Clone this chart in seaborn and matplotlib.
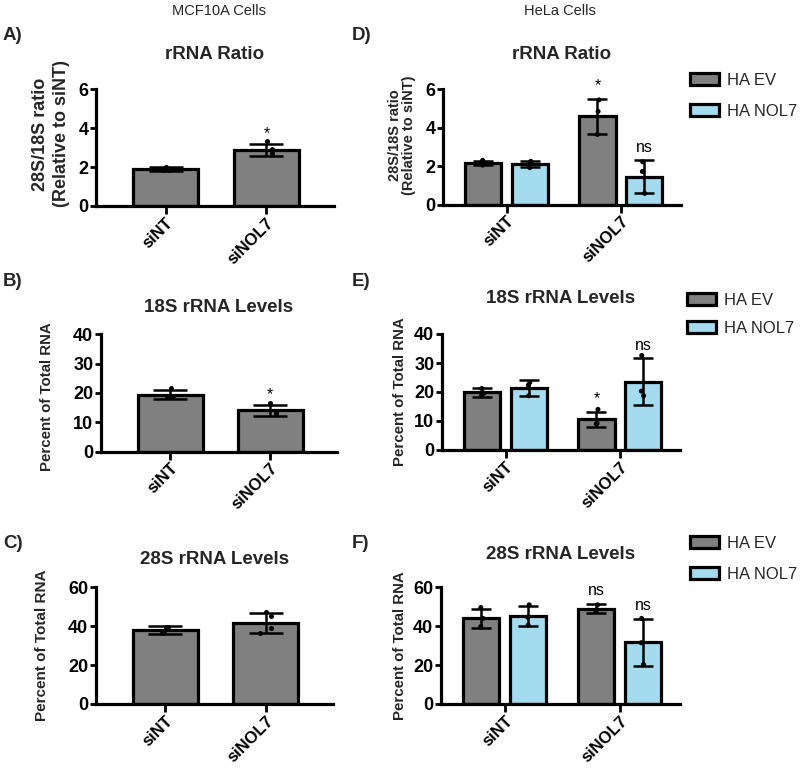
import numpy as np
import pandas as pd
import matplotlib
matplotlib.use("Agg")
import matplotlib.pyplot as plt
import seaborn as sns
from matplotlib.patches import Patch

sns.set_theme(style="ticks")
plt.rcParams['font.family'] = ['Liberation Sans', 'DejaVu Sans']

# ---------------- data ----------------
categories = ["siNT", "siNOL7"]
groups = ["HA EV", "HA NOL7"]

# MCF10A cells (single group)
A_means = [1.90, 2.88]
A_sds = [0.10, 0.30]
A_points = [[2.00, 1.86, 1.85], [3.32, 2.95, 2.72]]
A_marks = ["", "*"]

B_means = [19.4, 14.0]
B_sds = [1.6, 1.8]
B_points = [[21.6, 19.0, 18.5], [16.5, 13.4, 12.8]]
B_marks = ["", "*"]

C_means = [38.1, 41.6]
C_sds = [2.1, 5.2]
C_points = [[39.5, 39.5, 36.4], [47.5, 45.5, 39.3, 36.4]]
C_marks = ["", ""]

# HeLa cells (HA EV / HA NOL7) -- order: siNT, siNOL7
D_ev_means = [2.16, 4.60]
D_ev_sds = [0.12, 0.92]
D_ev_points = [[2.30, 2.15, 2.05], [5.45, 4.85, 3.65]]
D_nol_means = [2.09, 1.45]
D_nol_sds = [0.15, 0.85]
D_nol_points = [[2.25, 2.12, 1.92], [2.22, 1.72, 0.58]]
D_ev_marks = ["", "*"]
D_nol_marks = ["", "ns"]

E_ev_means = [19.9, 10.6]
E_ev_sds = [1.6, 2.6]
E_ev_points = [[21.2, 19.6, 19.0], [14.0, 9.2, 9.0]]
E_nol_means = [21.3, 23.5]
E_nol_sds = [2.7, 8.1]
E_nol_points = [[23.3, 22.4, 18.7], [32.6, 20.3, 18.7]]
E_ev_marks = ["", "*"]
E_nol_marks = ["", "ns"]

F_ev_means = [44.1, 49.1]
F_ev_sds = [5.0, 2.3]
F_ev_points = [[49.6, 44.0, 39.8], [51.0, 48.5, 47.8]]
F_nol_means = [45.3, 31.7]
F_nol_sds = [5.3, 12.0]
F_nol_points = [[51.0, 44.6, 40.5], [44.0, 31.5, 20.3]]
F_ev_marks = ["", "ns"]
F_nol_marks = ["", "ns"]

GRAY = "#808080"
BLUE = "#A5DBEE"
W, H = 800, 779

fig = plt.figure(figsize=(W / 100, H / 100), dpi=100)


def px_axes(left, right, top, bottom):
    return fig.add_axes([left / W, 1 - bottom / H, (right - left) / W, (bottom - top) / H])


def style_axes(ax, ylim, yticks, xlim):
    ax.set_ylim(*ylim)
    ax.set_yticks(yticks)
    ax.set_xlim(*xlim)
    sns.despine(ax=ax)
    for s in ("left", "bottom"):
        ax.spines[s].set_linewidth(2.3)
        ax.spines[s].set_color("black")
    ax.tick_params(axis="y", length=4, width=2, pad=1.5, labelsize=13, colors="black")
    ax.tick_params(axis="x", length=5.5, width=2, pad=1, labelsize=12, colors="black")
    for lab in ax.get_yticklabels():
        lab.set_fontweight("bold")
    for lab in ax.get_xticklabels():
        lab.set_fontweight("bold")
        lab.set_rotation(45)
        lab.set_ha("right")
        lab.set_va("top")
        lab.set_rotation_mode("anchor")
    ax.set_xlabel("")
    ax.set_facecolor("white")


def annotate(ax, x, top, mark, off):
    if mark:
        ax.annotate(mark, (x, top), xytext=(0, off), textcoords="offset points",
                    ha="center", va="bottom", fontsize=11.5, color="black")


def single_panel(rect, means, sds, points, marks, ylim, yticks, title, tpad, ylabel, ylsize, ylpos, lsp=1.2):
    ax = px_axes(*rect)
    df = pd.DataFrame({"cond": categories, "value": means})
    sns.barplot(data=df, x="cond", y="value", color=GRAY, saturation=1, width=0.65,
                edgecolor="black", linewidth=2.3, errorbar=None, ax=ax, zorder=2)
    bars = sorted(ax.patches, key=lambda p: p.get_x())
    centers = [p.get_x() + p.get_width() / 2 for p in bars]
    ax.errorbar(centers, means, yerr=sds, fmt="none", ecolor="black", elinewidth=1.8,
                capsize=12, capthick=1.8, zorder=3)
    pts = pd.DataFrame({"cond": [c for c, v in zip(categories, points) for _ in v],
                        "value": [x for v in points for x in v]})
    np.random.seed(3)
    sns.stripplot(data=pts, x="cond", y="value", color="black", size=3.6, jitter=0.07,
                  ax=ax, zorder=4)
    for c, m, s, mk in zip(centers, means, sds, marks):
        annotate(ax, c, m + s, mk, 2)
    style_axes(ax, ylim, yticks, (-0.69, 1.67))
    ax.set_title(title, fontsize=13.5, fontweight="bold", pad=tpad)
    ax.set_ylabel(ylabel, fontsize=ylsize, fontweight="bold", va="center", linespacing=lsp)
    ax.yaxis.set_label_coords(*ylpos)
    return ax


def hue_panel(rect, ev_means, ev_sds, ev_points, nol_means, nol_sds, nol_points,
              ev_marks, nol_marks, ylim, yticks, title, tpad, ylabel, ylsize, ylpos, lsp=1.2):
    ax = px_axes(*rect)
    rows = []
    for g, ms in zip(groups, [ev_means, nol_means]):
        for c, m in zip(categories, ms):
            rows.append((c, g, m))
    df = pd.DataFrame(rows, columns=["cond", "group", "value"])
    sns.barplot(data=df, x="cond", y="value", hue="group", hue_order=groups,
                palette=[GRAY, BLUE], saturation=1, width=0.82, gap=0.23,
                edgecolor="black", linewidth=2.3, errorbar=None, legend=False, ax=ax, zorder=2)
    bars = sorted([p for p in ax.patches if p.get_width() > 0], key=lambda p: p.get_x())
    centers = [p.get_x() + p.get_width() / 2 for p in bars]
    # x order: siNT-EV, siNT-NOL7, siNOL7-EV, siNOL7-NOL7
    means = [ev_means[0], nol_means[0], ev_means[1], nol_means[1]]
    sds = [ev_sds[0], nol_sds[0], ev_sds[1], nol_sds[1]]
    marks = [ev_marks[0], nol_marks[0], ev_marks[1], nol_marks[1]]
    ax.errorbar(centers, means, yerr=sds, fmt="none", ecolor="black", elinewidth=1.8,
                capsize=7.5, capthick=1.8, zorder=3)
    prow = []
    for g, pl in zip(groups, [ev_points, nol_points]):
        for c, v in zip(categories, pl):
            for x in v:
                prow.append((c, g, x))
    pts = pd.DataFrame(prow, columns=["cond", "group", "value"])
    np.random.seed(5)
    sns.stripplot(data=pts, x="cond", y="value", hue="group", hue_order=groups,
                  palette=["black", "black"], dodge=True, size=3.6, jitter=0.03,
                  legend=False, ax=ax, zorder=4)
    for c, m, s, mk in zip(centers, means, sds, marks):
        annotate(ax, c, m + s, mk, 4)
    style_axes(ax, ylim, yticks, (-0.555, 1.525))
    ax.set_title(title, fontsize=13.5, fontweight="bold", pad=tpad)
    ax.set_ylabel(ylabel, fontsize=ylsize, fontweight="bold", va="center", linespacing=lsp)
    ax.yaxis.set_label_coords(*ylpos)
    return ax


def add_legend(left_px, top_px, lsp):
    handles = [Patch(facecolor=GRAY, edgecolor="black", linewidth=2.3),
               Patch(facecolor=BLUE, edgecolor="black", linewidth=2.3)]
    fig.legend(handles, groups, loc="upper left", bbox_to_anchor=(left_px / W, 1 - top_px / H),
               frameon=False, fontsize=12, handlelength=1.75, handleheight=0.7,
               handletextpad=0.45, labelspacing=lsp, borderaxespad=0, borderpad=0)


ratio_label = "28S/18S ratio\n(Relative to siNT)"
pct_label = "Percent of Total RNA"

# left column: MCF10A
single_panel((96, 334, 89.3, 206), A_means, A_sds, A_points, A_marks, (0, 6), [0, 2, 4, 6],
             "rRNA Ratio", 22, ratio_label, 13, (-0.19, 0.617), 1.3)
single_panel((101, 337, 334.3, 451.5), B_means, B_sds, B_points, B_marks, (0, 40), [0, 10, 20, 30, 40],
             "18S rRNA Levels", 16.4, pct_label, 10.8, (-0.229, 0.466))
single_panel((96, 333, 587.3, 704), C_means, C_sds, C_points, C_marks, (0, 60), [0, 20, 40, 60],
             "28S rRNA Levels", 17, pct_label, 11, (-0.228, 0.5))

# right column: HeLa
hue_panel((443, 681, 89.3, 204.5), D_ev_means, D_ev_sds, D_ev_points, D_nol_means, D_nol_sds,
          D_nol_points, D_ev_marks, D_nol_marks, (0, 6), [0, 2, 4, 6], "rRNA Ratio", 22,
          ratio_label, 10.5, (-0.172, 0.60), 1.0)
hue_panel((442, 680, 334, 450), E_ev_means, E_ev_sds, E_ev_points, E_nol_means, E_nol_sds,
          E_nol_points, E_ev_marks, E_nol_marks, (0, 40), [0, 10, 20, 30, 40], "18S rRNA Levels", 22,
          pct_label, 10.8, (-0.176, 0.5))
hue_panel((441, 680, 587.3, 704), F_ev_means, F_ev_sds, F_ev_points, F_nol_means, F_nol_sds,
          F_nol_points, F_ev_marks, F_nol_marks, (0, 60), [0, 20, 40, 60], "28S rRNA Levels", 20.7,
          pct_label, 10.8, (-0.17, 0.5))

add_legend(690, 73, 0.95)
add_legend(687, 293, 0.75)
add_legend(690, 536, 0.95)

# headers and panel letters
fig.text(219 / W, 1 - 11 / H, "MCF10A Cells", ha="center", va="center", fontsize=10.5)
fig.text(560 / W, 1 - 11 / H, "HeLa Cells", ha="center", va="center", fontsize=10.5)
for letter, x, y in [("A)", 3, 35), ("B)", 3, 282), ("C)", 3, 543),
                     ("D)", 352, 35), ("E)", 352, 282), ("F)", 352, 543)]:
    fig.text(x / W, 1 - y / H, letter, ha="left", va="center", fontsize=13.5, fontweight="bold")

fig.savefig("out.png", dpi=100, facecolor="white")
